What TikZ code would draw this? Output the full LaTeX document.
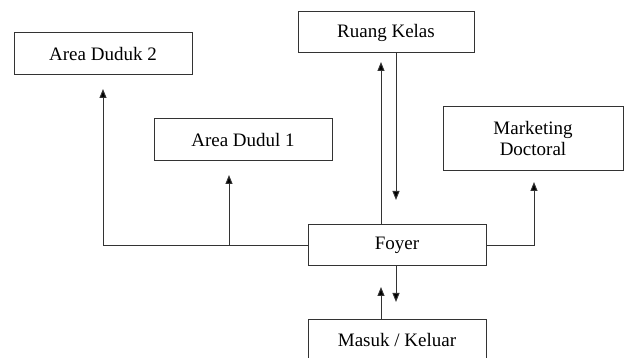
\documentclass[tikz,border=0pt]{standalone}
\usepackage{fontspec}
\setmainfont{Liberation Serif}
\usetikzlibrary{arrows.meta,calc}
\begin{document}
\begin{tikzpicture}[x=1pt,y=-1pt,
  box/.style={draw=black!80,line width=1pt,inner sep=0pt,align=center,
    font=\fontsize{19}{21}\selectfont,text=black},
  arr/.style={draw=black!80,line width=1pt,-{Triangle[length=9pt,width=7pt,fill=black]}},
  ln/.style={draw=black!80,line width=1pt}]
\useasboundingbox (0,0) rectangle (625,358);
\clip (0,0) rectangle (625,358);
% boxes
\node[box,minimum width=178pt,minimum height=42pt] (ad2) at (103,54) {Area Duduk 2};
\node[box,minimum width=178pt,minimum height=42pt] (ad1) at (243,140) {Area Dudul 1};
\node[box,minimum width=176pt,minimum height=41pt] (rk) at (386,32.5) {Ruang Kelas};
\node[box,minimum width=180pt,minimum height=64pt] (md) at (533,139) {Marketing\\Doctoral};
\node[box,minimum width=178pt,minimum height=41pt] (fy) at (397,245.5) {Foyer};
\node[box,minimum width=178pt,minimum height=41pt] (mk) at (397,340.5) {Masuk / Keluar};
% junction and free ends
\coordinate (j1) at (229,245);
\coordinate (t1) at (229,175);
\coordinate (t2) at (103,89);
\coordinate (t3) at (534,182);
\coordinate (rkup) at (381,62);
\coordinate (rkdown) at (396,200);
\coordinate (fyup) at (381,287);
\coordinate (fydown) at (396,302);
% left branch
\draw[arr] (fy.west) -| (t2);
\draw[arr] (j1) -- (t1);
% right branch
\draw[arr] (fy.east) -| (t3);
% Ruang Kelas
\draw[arr] (fy.north -| rkup) -- (rkup);
\draw[arr] (rk.south -| rkdown) -- (rkdown);
% Masuk / Keluar
\draw[arr] (mk.north -| fyup) -- (fyup);
\draw[arr] (fy.south -| fydown) -- (fydown);
\end{tikzpicture}
\end{document}
